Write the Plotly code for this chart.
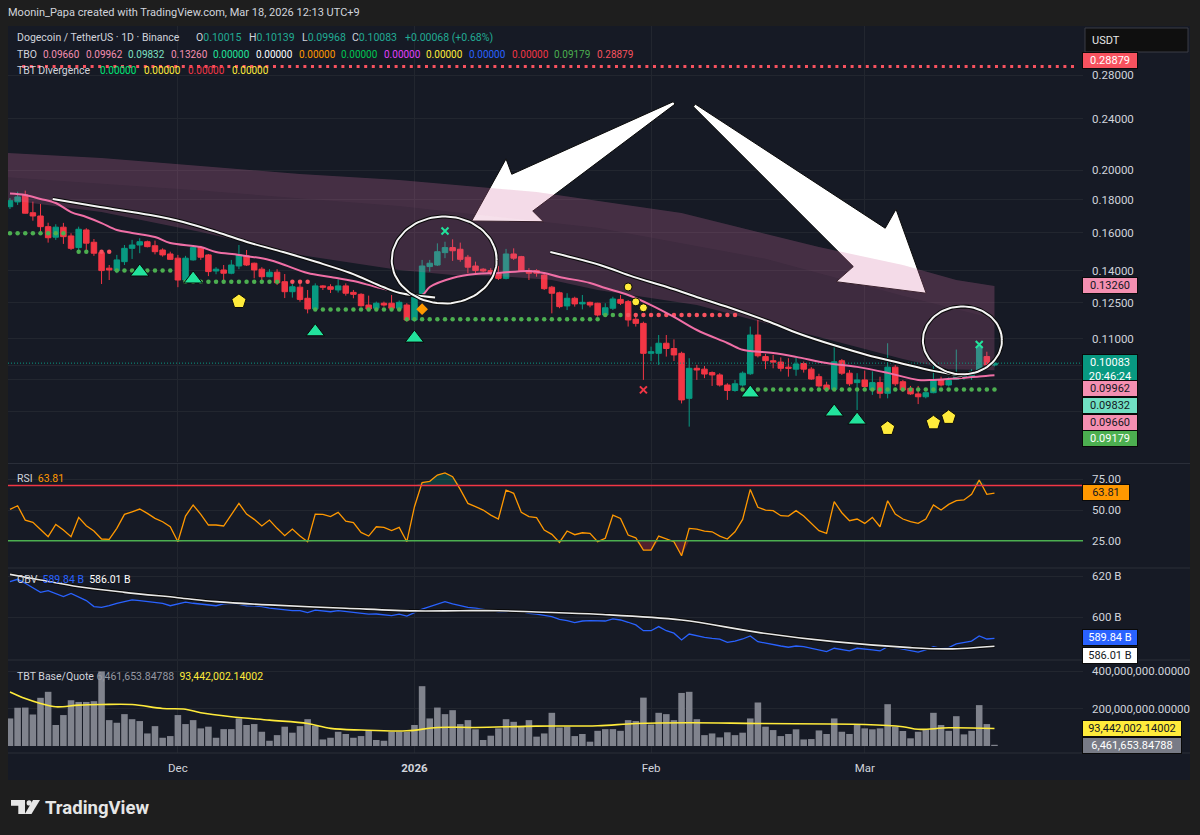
import math
import numpy as np
import pandas as pd
import plotly.graph_objects as go

# ---------------- DATA ----------------
START = pd.Timestamp("2025-11-09")
dates = pd.date_range(START, periods=130, freq="D")

opens = [0.1756,0.1786,0.1831,0.1719,0.1699,0.1636,0.1576,0.1633,0.1583,0.1519,
0.1617,0.1548,0.1492,0.1412,0.1400,0.1445,0.1515,0.1533,0.1551,0.1529,
0.1506,0.1485,0.1463,0.1354,0.1454,0.1519,0.1480,0.1398,0.1403,0.1387,
0.1423,0.1475,0.1437,0.1407,0.1370,0.1392,0.1346,0.1299,0.1320,0.1269,
0.1222,0.1326,0.1322,0.1307,0.1326,0.1296,0.1287,0.1239,0.1225,0.1247,
0.1247,0.1225,0.1239,0.1175,0.1269,0.1420,0.1428,0.1492,0.1519,0.1510,
0.1468,0.1423,0.1407,0.1400,0.1387,0.1362,0.1485,0.1471,0.1400,0.1400,
0.1378,0.1320,0.1294,0.1235,0.1269,0.1244,0.1251,0.1247,0.1196,0.1225,
0.1264,0.1254,0.1178,0.1161,0.1044,0.1044,0.1082,0.1062,0.1044,0.0890,
0.0990,0.0987,0.0975,0.0967,0.0933,0.0915,0.0933,0.0971,0.1114,0.1032,
0.1017,0.1012,0.0994,0.0987,0.1007,0.0987,0.0961,0.0933,0.0919,0.1017,
0.0973,0.0941,0.0950,0.0917,0.0941,0.0906,0.0994,0.0944,0.0922,0.0904,
0.0895,0.0908,0.0950,0.0933,0.0952,0.0961,0.0964,0.0979,0.1032,0.10015]

highs = [0.1811,0.1852,0.1859,0.1788,0.1773,0.1659,0.1650,0.1658,0.1598,0.1636,
0.1627,0.1566,0.1506,0.1428,0.1480,0.1533,0.1561,0.1570,0.1557,0.1557,
0.1515,0.1497,0.1480,0.1475,0.1528,0.1528,0.1485,0.1417,0.1428,0.1454,
0.1533,0.1506,0.1440,0.1417,0.1407,0.1407,0.1383,0.1334,0.1354,0.1307,
0.1338,0.1330,0.1334,0.1357,0.1338,0.1307,0.1292,0.1281,0.1254,0.1254,
0.1284,0.1259,0.1247,0.1284,0.1454,0.1454,0.1542,0.1551,0.1564,0.1546,
0.1480,0.1445,0.1412,0.1412,0.1423,0.1512,0.1515,0.1475,0.1412,0.1407,
0.1387,0.1326,0.1299,0.1292,0.1276,0.1284,0.1254,0.1249,0.1247,0.1276,
0.1284,0.1261,0.1189,0.1168,0.1069,0.1114,0.1114,0.1097,0.1050,0.1026,
0.1002,0.0998,0.0979,0.0973,0.0939,0.0950,0.0979,0.1148,0.1175,0.1042,
0.1038,0.1029,0.1026,0.1029,0.1014,0.0994,0.0971,0.0944,0.1069,0.1023,
0.0984,0.0973,0.0982,0.0979,0.0961,0.1082,0.1002,0.0950,0.0930,0.0930,
0.0911,0.1008,0.0961,0.0959,0.1058,0.0971,0.0987,0.1075,0.1050,0.10139]

lows = [0.1742,0.1767,0.1714,0.1671,0.1607,0.1546,0.1561,0.1539,0.1506,0.1506,
0.1501,0.1475,0.1335,0.1354,0.1387,0.1428,0.1459,0.1489,0.1520,0.1483,
0.1471,0.1454,0.1320,0.1347,0.1450,0.1454,0.1373,0.1382,0.1354,0.1382,
0.1407,0.1423,0.1362,0.1354,0.1367,0.1330,0.1270,0.1272,0.1254,0.1203,
0.1217,0.1307,0.1293,0.1295,0.1281,0.1269,0.1232,0.1217,0.1222,0.1232,
0.1217,0.1217,0.1168,0.1168,0.1264,0.1395,0.1423,0.1463,0.1449,0.1445,
0.1387,0.1383,0.1392,0.1378,0.1354,0.1357,0.1454,0.1395,0.1354,0.1370,
0.1307,0.1203,0.1225,0.1217,0.1232,0.1220,0.1229,0.1189,0.1189,0.1217,
0.1239,0.1148,0.1148,0.0950,0.1016,0.1002,0.1032,0.1016,0.0874,0.0805,
0.0950,0.0956,0.0930,0.0928,0.0885,0.0911,0.0928,0.0967,0.1029,0.0987,
0.0990,0.0979,0.0961,0.0964,0.0975,0.0950,0.0925,0.0911,0.0917,0.0967,
0.0930,0.0854,0.0917,0.0901,0.0890,0.0890,0.0930,0.0911,0.0901,0.0872,
0.0890,0.0906,0.0928,0.0928,0.0950,0.0950,0.0950,0.0975,0.0994,0.09968]

closes = [0.1794,0.1818,0.1716,0.1699,0.1636,0.1573,0.1633,0.1579,0.1515,0.1621,
0.1543,0.1489,0.1400,0.1403,0.1454,0.1515,0.1533,0.1551,0.1524,0.1497,
0.1480,0.1457,0.1354,0.1463,0.1519,0.1468,0.1395,0.1407,0.1387,0.1428,
0.1480,0.1428,0.1403,0.1370,0.1392,0.1341,0.1299,0.1322,0.1264,0.1222,
0.1326,0.1320,0.1310,0.1326,0.1292,0.1287,0.1236,0.1222,0.1247,0.1239,
0.1225,0.1251,0.1175,0.1276,0.1423,0.1437,0.1497,0.1519,0.1502,0.1457,
0.1417,0.1400,0.1398,0.1387,0.1362,0.1485,0.1463,0.1400,0.1387,0.1387,
0.1313,0.1292,0.1232,0.1269,0.1244,0.1251,0.1239,0.1196,0.1227,0.1266,
0.1247,0.1175,0.1161,0.1044,0.1050,0.1082,0.1062,0.1038,0.0885,0.0990,
0.0984,0.0970,0.0967,0.0933,0.0915,0.0937,0.0973,0.1114,0.1035,0.1017,
0.1012,0.0990,0.0990,0.1005,0.0987,0.0953,0.0930,0.0919,0.1013,0.0973,
0.0937,0.0950,0.0928,0.0941,0.0906,0.0994,0.0937,0.0917,0.0904,0.0895,
0.0908,0.0950,0.0933,0.0948,0.0964,0.0967,0.0979,0.1069,0.1002,0.10083]

# volume in millions
volume_m = [147,204,205,168,257,289,112,165,244,235,
235,239,398,138,124,170,143,133,67,106,
44,53,165,117,138,94,103,44,90,90,
147,112,117,76,28,58,103,71,106,143,
108,35,44,76,64,44,53,81,32,28,
76,76,76,112,319,147,205,170,191,117,
138,89,32,55,94,143,129,103,138,50,
67,177,99,103,53,64,23,81,90,90,
81,138,133,258,115,177,170,138,283,289,
143,58,67,46,73,58,71,147,232,103,
85,53,64,89,35,37,83,64,147,76,
64,112,94,89,94,223,103,80,41,76,
89,177,112,81,159,62,81,218,117,6.46]

vol_ma_days = [0,2,4,6,9,12,16,20,23,25,29,34,39,42,46,52,56,61,69,77,82,89,98,112,117,119,123,129]
vol_ma_vals = [288,253,227,209,218,221,221,200,196,177,156,138,120,94,85,81,99,99,106,108,120,124,120,115,103,89,97,93.44]

rsi = [50.5,53.5,41.8,40.0,34.2,28.3,38.3,33.7,28.3,44.0,
37.2,32.9,26.4,26.1,35.1,46.5,48.6,50.8,47.3,43.2,
40.5,36.4,24.2,45.1,54.1,46.5,37.8,37.8,37.0,45.9,
55.4,46.7,42.4,37.0,41.8,35.1,29.1,34.5,28.8,24.2,
46.7,46.5,44.6,48.1,41.0,39.7,31.8,28.8,36.4,35.9,
33.2,35.9,24.2,52.7,72.3,73.4,78.5,80.2,77.2,66.8,
55.4,52.7,50.0,45.9,42.7,66.3,63.6,48.1,44.6,43.8,
33.7,30.2,23.6,32.9,29.9,31.5,31.0,24.2,27.0,45.9,
43.2,29.6,27.4,17.4,17.4,28.8,26.4,24.2,12.8,35.1,
34.5,32.9,32.3,28.8,26.4,32.3,42.4,66.8,52.2,50.0,
49.5,45.4,45.1,49.5,45.1,39.1,33.2,31.0,56.8,47.8,
41.3,42.7,39.1,44.0,36.4,57.6,46.7,42.7,40.5,39.1,
42.7,54.1,50.0,54.6,57.6,58.2,62.8,74.5,62.8,63.81]

# OBV in billions
obv_b = [617.3,618.4,616.5,614.4,612.1,612.9,611.6,610.0,611.6,610.0,
608.1,605.2,604.8,605.6,606.8,607.6,608.4,608.1,607.6,607.1,
606.8,605.6,606.5,607.3,606.8,606.3,606.0,605.6,606.5,606.8,
606.3,605.6,605.5,605.2,604.4,604.0,603.9,603.2,603.2,602.3,
603.5,603.2,602.7,603.2,602.7,602.3,601.9,601.5,601.6,601.1,
600.8,601.5,600.6,602.3,604.0,605.2,606.5,607.6,606.5,605.6,
604.8,604.4,603.9,603.2,602.7,602.7,603.2,602.7,601.9,601.5,
600.8,600.3,599.0,598.4,597.4,598.2,598.4,598.2,598.2,599.2,
598.7,597.6,596.3,593.5,593.5,595.5,593.5,592.3,589.0,591.9,
591.0,590.3,589.8,589.4,587.9,588.5,589.5,591.0,588.2,587.4,
586.6,586.1,585.5,586.1,585.8,585.0,584.2,583.4,585.0,584.2,
583.7,585.0,584.7,584.2,583.7,585.8,585.3,584.5,583.9,583.1,
584.2,585.8,585.0,585.3,587.1,587.7,588.5,591.0,589.5,589.84]

obv_ma_days = [0,4,9,15,22,27,34,44,53,59,64,69,77,88,98,108,118,123,129]
obv_ma_vals = [620.8,618.1,614.8,612.1,609.5,607.6,606.0,604.4,603.1,603.2,603.2,602.6,601.5,598.7,592.7,588.2,585.3,584.7,586.01]

# TBO fast line (pink)
pink_days = [0,2,4,6,8,10,12,14,16,19,21,25,27,30,34,36,39,42,45,48,51,54,55,58,61,64,68,70,72,76,
             78,81,84,87,90,94,96,97,100,103,107,111,115,119,121,124,127,129]
pink_vals = [0.1840,0.1830,0.1805,0.1779,0.1723,0.1693,0.1657,0.1617,0.1600,0.1577,0.1544,0.1522,0.1495,0.1480,
             0.1454,0.1428,0.1388,0.1369,0.1349,0.1321,0.1297,0.1284,0.1321,0.1364,0.1383,0.1388,0.1398,0.1388,
             0.1369,0.1340,0.1316,0.1284,0.1239,0.1188,0.1134,0.1083,0.1057,0.1053,0.1045,0.1031,0.1009,0.0995,
             0.0974,0.0950,0.0950,0.0955,0.0962,0.0966]

# TBO cloud
band_up_days = [-0.3,12,25,38,51,69,88,106,117,124,129]
band_up_vals = [0.2125,0.2087,0.2029,0.1972,0.1930,0.1850,0.1717,0.1522,0.1428,0.1354,0.1326]
band_mid_days = [-0.3,25,51,77,99,117,129]
band_mid_vals = [0.1950,0.1860,0.1760,0.1630,0.1460,0.1280,0.1180]
band_lo_days = [-0.3,12,25,38,51,58,64,71,77,90,99,110,117,123,129]
band_lo_vals = [0.1798,0.1723,0.1605,0.1480,0.1403,0.1378,0.1373,0.1354,0.1307,0.1239,0.1163,0.1075,0.1023,0.0987,0.0983]

# support / resistance dot levels: start day, end day, price, kind
lvl_start = [0, 9, 12, 14, 23, 37, 40, 52, 78, 81, 96]
lvl_end   = [7, 10, 13, 21, 35, 39, 51, 77, 80, 95, 129]
lvl_price = [0.1598,0.1497,0.1497,0.1400,0.1346,0.1346,0.1219,0.1178,0.1196,0.1196,0.09179]
lvl_kind  = ["g","g","r","g","g","r","g","g","g","r","g"]

# signal markers (day, price)
tri_days = [17,24,40,53,97,108,111]
tri_prices = [0.1393,0.1359,0.1127,0.1102,0.0907,0.0848,0.0824]
pent_days = [30,115,121,123]
pent_prices = [0.1255,0.0800,0.0816,0.0832]
drop_days = [81,82,83]
drop_prices = [0.1321,0.1253,0.1227]
xg_days = [57,127]
xg_prices = [0.1611,0.1077]
xr_days = [83]
xr_prices = [0.0917]
dia_days = [54]
dia_prices = [0.1221]

# user drawings (day, price)
whiteA_days = [5.6,11.8,18.4,22.7,27.1,31.5,35.8,40.2,44.6,48.9,51.1,55.7]
whiteA_vals = [0.1805,0.1754,0.1705,0.1663,0.1605,0.1544,0.1495,0.1443,0.1388,0.1321,0.1293,0.1273]
whiteB_days = [70.8,77.3,81.7,86.1,90.4,94.8,99.2,103.5,107.9,112.3,116.6,121.0,124.8]
whiteB_vals = [0.1495,0.1428,0.1369,0.1321,0.1270,0.1222,0.1171,0.1118,0.1075,0.1038,0.1009,0.0981,0.0963]
arrow1_days = [86.9,65.75,65.0,60.5,69.9,68.5,87.15]
arrow1_prices = [0.2548,0.1970,0.2080,0.1669,0.1665,0.1729,0.2527]
arrow2_days = [89.78,114.68,116.1,120.05,108.26,110.5,89.56]
arrow2_prices = [0.2527,0.1627,0.1740,0.1292,0.1346,0.1420,0.2503]
# ellipses: center day, center price, radius (days), radius (log10)
circ_cd = [56.9, 124.8]
circ_cp = [0.14535, 0.1093]
circ_rx = [6.88, 5.18]
circ_ry = [0.0670, 0.0524]

last_price = 0.10083
top_level = 0.28879

# ---------------- HELPERS ----------------
W, H = 1200, 835
FONT = "Roboto, 'Noto Sans', sans-serif"
GRID = "#22262f"
BG_PANEL = "#161a25"
BG_OUT = "#1e1e1e"
TEAL = "#089981"
RED = "#f23645"
PINK = "#f48fb1"


def day(d):
    return START + pd.to_timedelta(float(d), unit="D")


def days(ds):
    return [day(d) for d in ds]


def fx(px):
    return px / W


def fy(py):
    return 1 - py / H


fig = go.Figure()
P = dict(xaxis="x", yaxis="y", hoverinfo="skip", showlegend=False)

# arrows (drawn first so the cloud tints them)
for ad, ap in [(arrow1_days, arrow1_prices), (arrow2_days, arrow2_prices)]:
    fig.add_trace(go.Scatter(x=days(ad + [ad[0]]), y=ap + [ap[0]], mode="lines", fill="toself",
                             fillcolor="#ffffff", line=dict(color="#0a0a0a", width=1), **P))

# cloud
fig.add_trace(go.Scatter(x=days(band_up_days + band_lo_days[::-1]), y=band_up_vals + band_lo_vals[::-1],
                         mode="lines", fill="toself", fillcolor="rgba(214,108,160,0.21)", line=dict(width=0), **P))
fig.add_trace(go.Scatter(x=days(band_up_days + band_mid_days[::-1]), y=band_up_vals + band_mid_vals[::-1],
                         mode="lines", fill="toself", fillcolor="rgba(222,130,180,0.05)", line=dict(width=0), **P))

# top dotted level and current price line
x_lo, x_hi = day(-0.26), day(140.6)
fig.add_trace(go.Scatter(x=[day(1.6), day(139.6)], y=[top_level, top_level], mode="lines",
                         line=dict(color="#f7525f", width=3, dash="3px,4.6px"), **P))
fig.add_trace(go.Scatter(x=[x_lo, x_hi], y=[last_price, last_price], mode="lines",
                         line=dict(color=TEAL, width=1, dash="1px,2px"), **P))

# dot levels
for s, e, pr, k in zip(lvl_start, lvl_end, lvl_price, lvl_kind):
    xs = list(dates[s:e + 1])
    fig.add_trace(go.Scatter(x=xs, y=[pr] * len(xs), mode="markers",
                             marker=dict(size=4.5, color="#4caf50" if k == "g" else "#f7525f"), **P))

# pink TBO line
fig.add_trace(go.Scatter(x=days(pink_days), y=pink_vals, mode="lines", line_shape="spline",
                         line=dict(color="#f06fa6", width=2), **P))

# white drawn curves (dark outline first)
for wd, wv in [(whiteA_days, whiteA_vals), (whiteB_days, whiteB_vals)]:
    fig.add_trace(go.Scatter(x=days(wd), y=wv, mode="lines", line_shape="spline",
                             line=dict(color="#0a0a0a", width=4), **P))
    fig.add_trace(go.Scatter(x=days(wd), y=wv, mode="lines", line_shape="spline",
                             line=dict(color="#f4f4f4", width=2), **P))

# candles
fig.add_trace(go.Candlestick(x=dates, open=opens, high=highs, low=lows, close=closes,
                             increasing=dict(line=dict(color=TEAL, width=1), fillcolor=TEAL),
                             decreasing=dict(line=dict(color=RED, width=1), fillcolor=RED),
                             whiskerwidth=0, xaxis="x", yaxis="y", showlegend=False, hoverinfo="skip"))

# signal markers
fig.add_trace(go.Scatter(x=days(tri_days), y=tri_prices, mode="markers",
                         marker=dict(symbol="triangle-up", size=16, color="#22e39c",
                                     line=dict(color="#0a0a0a", width=1)), **P))
fig.add_trace(go.Scatter(x=days(pent_days), y=pent_prices, mode="markers",
                         marker=dict(symbol="pentagon", size=15, color="#ffeb3b",
                                     line=dict(color="#0a0a0a", width=1)), **P))
fig.add_trace(go.Scatter(x=days(drop_days), y=drop_prices, mode="markers",
                         marker=dict(symbol="circle", size=8, color="#ffeb3b",
                                     line=dict(color="#0a0a0a", width=1)), **P))
fig.add_trace(go.Scatter(x=days(xg_days), y=xg_prices, mode="markers",
                         marker=dict(symbol="x-thin", size=7, line=dict(color="#22e39c", width=2)), **P))
fig.add_trace(go.Scatter(x=days(xr_days), y=xr_prices, mode="markers",
                         marker=dict(symbol="x-thin", size=7, line=dict(color=RED, width=2)), **P))
fig.add_trace(go.Scatter(x=days(dia_days), y=dia_prices, mode="markers",
                         marker=dict(symbol="diamond", size=9, color="#ff9800"), **P))

# hand drawn circles
t = np.linspace(0, 2 * np.pi * 1.06, 100)
for cd, cp, rx, ry in zip(circ_cd, circ_cp, circ_rx, circ_ry):
    xs = [day(cd + rx * math.cos(a)) for a in t]
    ys = [10 ** (math.log10(cp) + ry * math.sin(a)) for a in t]
    fig.add_trace(go.Scatter(x=xs, y=ys, mode="lines", line=dict(color="#0a0a0a", width=4), **P))
    fig.add_trace(go.Scatter(x=xs, y=ys, mode="lines", line=dict(color="#f4f4f4", width=2), **P))

# RSI pane
rsi_arr = np.array(rsi)
R = dict(xaxis="x", yaxis="y2", hoverinfo="skip", showlegend=False)
fig.add_trace(go.Scatter(x=dates, y=[70] * len(dates), mode="lines", line=dict(width=0), **R))
fig.add_trace(go.Scatter(x=dates, y=np.maximum(rsi_arr, 70), mode="lines", line=dict(width=0),
                         fill="tonexty", fillcolor="rgba(8,153,129,0.28)", **R))
fig.add_trace(go.Scatter(x=dates, y=[25] * len(dates), mode="lines", line=dict(width=0), **R))
fig.add_trace(go.Scatter(x=dates, y=np.minimum(rsi_arr, 25), mode="lines", line=dict(width=0),
                         fill="tonexty", fillcolor="rgba(242,54,69,0.28)", **R))
fig.add_trace(go.Scatter(x=dates, y=rsi, mode="lines", line=dict(color="#ff9800", width=1.3), **R))

# OBV pane
O = dict(xaxis="x", yaxis="y3", hoverinfo="skip", showlegend=False)
fig.add_trace(go.Scatter(x=dates, y=obv_b, mode="lines", line=dict(color="#2962ff", width=1.3), **O))
fig.add_trace(go.Scatter(x=days(obv_ma_days), y=obv_ma_vals, mode="lines", line_shape="spline",
                         line=dict(color="#0a0a0a", width=3.5), **O))
fig.add_trace(go.Scatter(x=days(obv_ma_days), y=obv_ma_vals, mode="lines", line_shape="spline",
                         line=dict(color="#e8e8e8", width=1.6), **O))

# Volume pane
V = dict(xaxis="x", yaxis="y4", hoverinfo="skip", showlegend=False)
fig.add_trace(go.Bar(x=dates, y=volume_m, marker=dict(color="#80838d", line=dict(width=0)), **V))
fig.add_trace(go.Scatter(x=days(vol_ma_days), y=vol_ma_vals, mode="lines", line_shape="spline",
                         line=dict(color="#ffeb3b", width=1.6), **V))

# ---------------- LAYOUT ----------------
tickfont = dict(family=FONT, size=11.5, color="#d1d4dc")
yax_common = dict(side="right", anchor="x", showgrid=True, gridcolor=GRID, zeroline=False,
                  showline=False, ticks="", tickfont=tickfont, ticklabelstandoff=8, fixedrange=True)

price_ticks = [0.28, 0.24, 0.20, 0.18, 0.16, 0.14, 0.125, 0.11, 0.10, 0.095, 0.085]
price_text = ["0.28000", "0.24000", "0.20000", "0.18000", "0.16000", "0.14000", "0.12500", "0.11000", "", "", ""]

fig.update_layout(
    width=W, height=H, margin=dict(l=0, r=0, t=0, b=0),
    paper_bgcolor=BG_OUT, plot_bgcolor="rgba(0,0,0,0)",
    showlegend=False, hovermode=False, bargap=0.14, boxgap=0.28, boxgroupgap=0,
    font=dict(family=FONT, color="#d1d4dc"),
    xaxis=dict(domain=[fx(8), fx(1083)], type="date", range=[x_lo, x_hi], anchor="y4",
               tickvals=[pd.Timestamp("2025-12-01"), pd.Timestamp("2026-01-01"),
                         pd.Timestamp("2026-02-01"), pd.Timestamp("2026-03-01")],
               ticktext=["Dec", "<b>2026</b>", "Feb", "Mar"], showgrid=True, gridcolor=GRID,
               zeroline=False, showline=False, ticks="", tickfont=tickfont, ticklabelstandoff=6,
               rangeslider=dict(visible=False), fixedrange=True),
    yaxis=dict(domain=[fy(462), fy(26)], type="log",
               range=[math.log10(0.07101), math.log10(0.3333)],
               tickvals=price_ticks, ticktext=price_text, **yax_common),
    yaxis2=dict(domain=[fy(567), fy(464)], range=[3.6, 87.5], tickvals=[25, 50, 75],
                ticktext=["25.00", "50.00", "75.00"], **yax_common),
    yaxis3=dict(domain=[fy(659), fy(569)], range=[579.8, 623.4], tickvals=[600, 620],
                ticktext=["600 B", "620 B"], **yax_common),
    yaxis4=dict(domain=[fy(753), fy(661)], range=[-37.3, 453.3], tickvals=[200, 400],
                ticktext=["200,000,000.00000", "400,000,000.00000"], **yax_common),
)

shapes = []
# chart panel
shapes.append(dict(type="rect", xref="paper", yref="paper", x0=fx(8), x1=fx(1190), y0=fy(780), y1=fy(26),
                   fillcolor=BG_PANEL, line=dict(width=0), layer="below"))
# pane separators
for yy in [463.5, 568, 660, 753]:
    shapes.append(dict(type="line", xref="paper", yref="paper", x0=fx(8), x1=fx(1190), y0=fy(yy), y1=fy(yy),
                       line=dict(color="#2a2e39", width=1)))
# RSI bands
shapes.append(dict(type="line", xref="x domain", yref="y2", x0=0, x1=1, y0=70, y1=70,
                   line=dict(color=RED, width=1.6)))
shapes.append(dict(type="line", xref="x domain", yref="y2", x0=0, x1=1, y0=25, y1=25,
                   line=dict(color="#4caf50", width=1.6)))
# USDT box
shapes.append(dict(type="rect", xref="paper", yref="paper", x0=fx(1085), x1=fx(1188), y0=fy(52), y1=fy(28),
                   fillcolor="#0f0f0f", line=dict(color="#3a3d47", width=1)))


def ppath(pts):
    return "M " + " L ".join(f"{fx(a):.5f},{fy(b):.5f}" for a, b in pts) + " Z"


# TradingView logo
shapes.append(dict(type="path", xref="paper", yref="paper",
                   path=ppath([(11, 800), (25, 800), (25, 814), (18.3, 814), (18.3, 805.7), (11, 805.7)]),
                   fillcolor="#e6e6e6", line=dict(width=0)))
shapes.append(dict(type="circle", xref="paper", yref="paper", x0=fx(26.6), x1=fx(31.6), y0=fy(805.5), y1=fy(800.3),
                   fillcolor="#e6e6e6", line=dict(width=0)))
shapes.append(dict(type="path", xref="paper", yref="paper",
                   path=ppath([(33, 800), (40, 800), (31.5, 814), (24.8, 814)]),
                   fillcolor="#e6e6e6", line=dict(width=0)))
fig.update_layout(shapes=shapes)


def sp(t, c):
    return f"<span style='color:{c}'>{t}</span>"


ann = []


def txt(x, y, s, size=10.5, color="#d1d4dc", anchor="left", **kw):
    ann.append(dict(x=fx(x), y=fy(y), xref="paper", yref="paper", text=s, showarrow=False,
                    xanchor=anchor, yanchor="middle", font=dict(family=FONT, size=size, color=color), **kw))


txt(6, 12, "Moonin_Papa created with TradingView.com, Mar 18, 2026 12:13 UTC+9", size=11)
txt(1090, 40, "USDT", size=11, color="#e6e6e6")

# legend row: symbol
txt(15, 38, "Dogecoin / TetherUS · 1D · Binance")
for lab, val, x in [("O", "0.10015", 194), ("H", "0.10139", 247), ("L", "0.09968", 300), ("C", "0.10083", 350)]:
    txt(x, 38, lab + sp(val, "#22ab94"))
txt(403, 38, sp("+0.00068 (+0.68%)", "#22ab94"))

# TBO row
tbo_vals = ["0.09660", "0.09962", "0.09832", "0.13260"] + ["0.00000"] * 8 + ["0.09179", "0.28879"]
tbo_cols = ["#f48fb1", "#f48fb1", "#7ee0c3", "#f48fb1", "#22e39c", "#ffffff", "#ff9800", "#00c853",
            "#e040fb", "#ffeb3b", "#2962ff", "#f23645", "#4caf50", "#f7525f"]
txt(15, 54, "TBO")
for i, (v, c) in enumerate(zip(tbo_vals, tbo_cols)):
    txt(41 + 42.6 * i, 54, sp(v, c), size=10)

# TBT divergence row
txt(15, 70, "TBT Divergence")
for v, c, x in [("0.00000", "#00e676", 98), ("0.00000", "#ffeb3b", 142), ("0.00000", "#f23645", 186),
                ("0.00000", "#ffeb3b", 230)]:
    txt(x, 70, sp(v, c), size=10)

# pane legends
txt(15, 478, "RSI" + "\u00a0\u00a0" + sp("63.81", "#ff9800"))
txt(15, 579, "OBV" + "\u00a0\u00a0" + sp("589.84 B", "#2962ff") + "\u00a0\u00a0" + sp("586.01 B", "#ffffff"))
txt(15, 676, "TBT Base/Quote" + "\u00a0" + sp("6,461,653.84788", "#9598a1") + "\u00a0\u00a0" +
    sp("93,442,002.14002", "#ffeb3b"))

# price-scale label boxes


def box(y, s, bg, fg, w=52):
    ann.append(dict(x=fx(1082), y=fy(y), xref="paper", yref="paper", text=s, showarrow=False,
                    xanchor="left", yanchor="middle", bgcolor=bg, bordercolor="#0a0a0a", borderwidth=1,
                    borderpad=1, width=w, align="center", font=dict(family=FONT, size=11, color=fg)))


box(60, "0.28879", "#f7525f", "#ffffff")
box(286, "0.13260", PINK, "#131722")
box(370, "0.10083<br>20:46:24", TEAL, "#ffffff")
box(388.5, "0.09962", PINK, "#131722")
box(405.5, "0.09832", "#70dfc2", "#131722")
box(422, "0.09660", PINK, "#131722")
box(438, "0.09179", "#4caf50", "#ffffff")
box(493, "63.81", "#ff9800", "#131722", w=44)
box(637, "589.84 B", "#2962ff", "#ffffff", w=52)
box(655, "586.01 B", "#ffffff", "#131722", w=52)
box(728, "93,442,002.14002", "#ffeb3b", "#131722", w=96)
box(745, "6,461,653.84788", "#787b86", "#ffffff", w=96)

# TradingView wordmark
txt(43, 808, "<b>TradingView</b>", size=18.5, color="#e6e6e6")

fig.update_layout(annotations=ann)

fig.write_html("out.html", config={"displayModeBar": False, "staticPlot": True})
